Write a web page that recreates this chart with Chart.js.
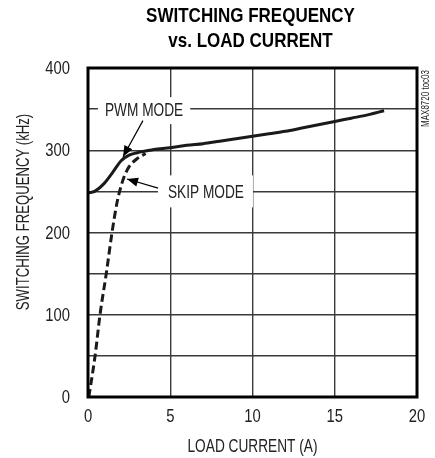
<!DOCTYPE html>
<html>
<head>
<meta charset="utf-8">
<script src="https://cdn.jsdelivr.net/npm/chart.js@4.4.1/dist/chart.umd.min.js"></script>
<style>
  html, body { margin: 0; padding: 0; background: #fff; }
  #wrap { width: 435px; height: 458px; }
</style>
</head>
<body>
<div id="wrap"><canvas id="chart" width="435" height="458"></canvas></div>
<script>
// values
const pwmCurrent = [0, 0.4, 1, 1.5, 2, 2.5, 3, 3.5, 4, 5, 6, 7, 8, 9, 10, 11, 12, 13, 14, 15, 16, 17, 18];
const pwmFreq = [248, 250, 260, 273, 287, 294, 297, 299, 301, 303, 306, 308, 311, 314, 317, 320, 323, 327, 331, 335, 339, 343, 348];

const skipCurrent = [0.05, 0.43, 0.73, 1.11, 1.46, 1.75, 1.95, 2.2, 2.5, 3, 3.5];
const skipFreq = [0, 50, 100, 150, 200, 235, 252, 268, 280, 290, 296];

const xTicks = [0, 5, 10, 15, 20];
const yTicks = [0, 100, 200, 300, 400];

const titleLines = ["SWITCHING FREQUENCY", "vs. LOAD CURRENT"];
const xTitle = "LOAD CURRENT (A)";
const yTitle = "SWITCHING FREQUENCY (kHz)";

const FONT = '"Liberation Sans", Arial, sans-serif';
const INK = "#222";

const toPoints = (xs, ys) => xs.map((x, i) => ({ x, y: ys[i] }));

// condensed text: the reference uses a narrow face, so squeeze a normal one
function ctext(ctx, text, x, y, opts) {
  const o = Object.assign({ size: 19, bold: false, align: "center", sx: 0.75, rot: 0, color: INK }, opts);
  ctx.save();
  ctx.translate(x, y);
  if (o.rot) ctx.rotate(o.rot);
  ctx.scale(o.sx, 1);
  ctx.font = (o.bold ? "bold " : "") + o.size + "px " + FONT;
  ctx.fillStyle = o.color;
  ctx.textAlign = o.align;
  ctx.textBaseline = "middle";
  ctx.fillText(text, 0, 0);
  const w = ctx.measureText(text).width * o.sx;
  ctx.restore();
  return w;
}

const extras = {
  id: "extras",
  afterDraw(chart) {
    const { ctx, chartArea: a, scales } = chart;
    const xs = scales.x, ys = scales.y;
    ctx.save();

    // frame
    ctx.strokeStyle = "#000";
    ctx.lineWidth = 3;
    ctx.strokeRect(a.left, a.top, a.right - a.left, a.bottom - a.top);

    // tick labels, placed by the scales
    xTicks.forEach((v) => ctext(ctx, String(v), xs.getPixelForValue(v), a.bottom + 20, { sx: 0.78 }));
    yTicks.forEach((v) => ctext(ctx, String(v), a.left - 18, ys.getPixelForValue(v) + 1, { sx: 0.78, align: "right" }));

    // titles
    const cx = (a.left + a.right) / 2;
    ctext(ctx, titleLines[0], cx - 2, 16, { size: 21, bold: true, sx: 0.81, color: "#000" });
    ctext(ctx, titleLines[1], cx - 2, 41, { size: 21, bold: true, sx: 0.81, color: "#000" });
    ctext(ctx, xTitle, cx, 447, { size: 19, sx: 0.72 });
    ctext(ctx, yTitle, 24, 212, { size: 18, sx: 0.73, rot: -Math.PI / 2 });

    // side code
    ctext(ctx, "MAX8720 toc03", a.right + 9, a.top + 2, { size: 10, sx: 0.8, rot: -Math.PI / 2, align: "right" });

    const label = (text, x, y, padL, padR, boxTop, boxBot) => {
      ctx.font = "18px " + FONT;
      const w = ctx.measureText(text).width * 0.76;
      ctx.fillStyle = "#fff";
      ctx.fillRect(x - padL, y - boxTop, w + padL + padR, boxTop + boxBot);
      ctext(ctx, text, x, y + 2, { size: 18, sx: 0.76, align: "left" });
    };
    const arrow = (x1, y1, x2, y2) => {
      ctx.strokeStyle = "#000";
      ctx.lineWidth = 1.2;
      ctx.beginPath();
      ctx.moveTo(x1, y1);
      ctx.lineTo(x2, y2);
      ctx.stroke();
      const ang = Math.atan2(y2 - y1, x2 - x1);
      const L = 11, W = 4.5;
      ctx.fillStyle = "#000";
      ctx.beginPath();
      ctx.moveTo(x2, y2);
      ctx.lineTo(x2 - L * Math.cos(ang) + W * Math.sin(ang), y2 - L * Math.sin(ang) - W * Math.cos(ang));
      ctx.lineTo(x2 - L * Math.cos(ang) - W * Math.sin(ang), y2 - L * Math.sin(ang) + W * Math.cos(ang));
      ctx.closePath();
      ctx.fill();
    };

    label("PWM MODE", xs.getPixelForValue(1.03), ys.getPixelForValue(350), 7, 7, 12, 15);
    arrow(xs.getPixelForValue(3.34), ys.getPixelForValue(336), xs.getPixelForValue(2.13), ys.getPixelForValue(292));

    label("SKIP MODE", xs.getPixelForValue(4.86), ys.getPixelForValue(250), 10, 9, 16, 16);
    arrow(xs.getPixelForValue(4.26), ys.getPixelForValue(254), xs.getPixelForValue(2.37), ys.getPixelForValue(265));

    ctx.restore();
  },
};

new Chart(document.getElementById("chart"), {
  type: "scatter",
  data: {
    datasets: [
      {
        label: "SKIP MODE",
        data: toPoints(skipCurrent, skipFreq),
        showLine: true,
        borderColor: "#1a1a1a",
        borderWidth: 3,
        borderDash: [8, 4],
        pointRadius: 0,
        cubicInterpolationMode: "monotone",
      },
      {
        label: "PWM MODE",
        data: toPoints(pwmCurrent, pwmFreq),
        showLine: true,
        borderColor: "#1a1a1a",
        borderWidth: 3,
        pointRadius: 0,
        cubicInterpolationMode: "monotone",
      },
    ],
  },
  options: {
    responsive: false,
    animation: false,
    layout: { padding: { left: 0, top: 68, right: 18, bottom: 0 } },
    plugins: {
      legend: { display: false },
      tooltip: { enabled: false },
      title: { display: false },
    },
    scales: {
      x: {
        type: "linear",
        min: 0,
        max: 20,
        afterFit: (s) => { s.height = 61; },
        afterBuildTicks: (s) => { s.ticks = xTicks.map((v) => ({ value: v })); },
        grid: { color: "#3a3a3a", lineWidth: 1.4, drawTicks: false },
        border: { display: false },
        ticks: { display: false },
      },
      y: {
        type: "linear",
        min: 0,
        max: 400,
        afterFit: (s) => { s.width = 88; },
        afterBuildTicks: (s) => {
          const t = [];
          for (let v = 0; v <= 400; v += 50) t.push({ value: v });
          s.ticks = t;
        },
        grid: { color: "#3a3a3a", lineWidth: 1.4, drawTicks: false },
        border: { display: false },
        ticks: { display: false },
      },
    },
  },
  plugins: [extras],
});
</script>
</body>
</html>
